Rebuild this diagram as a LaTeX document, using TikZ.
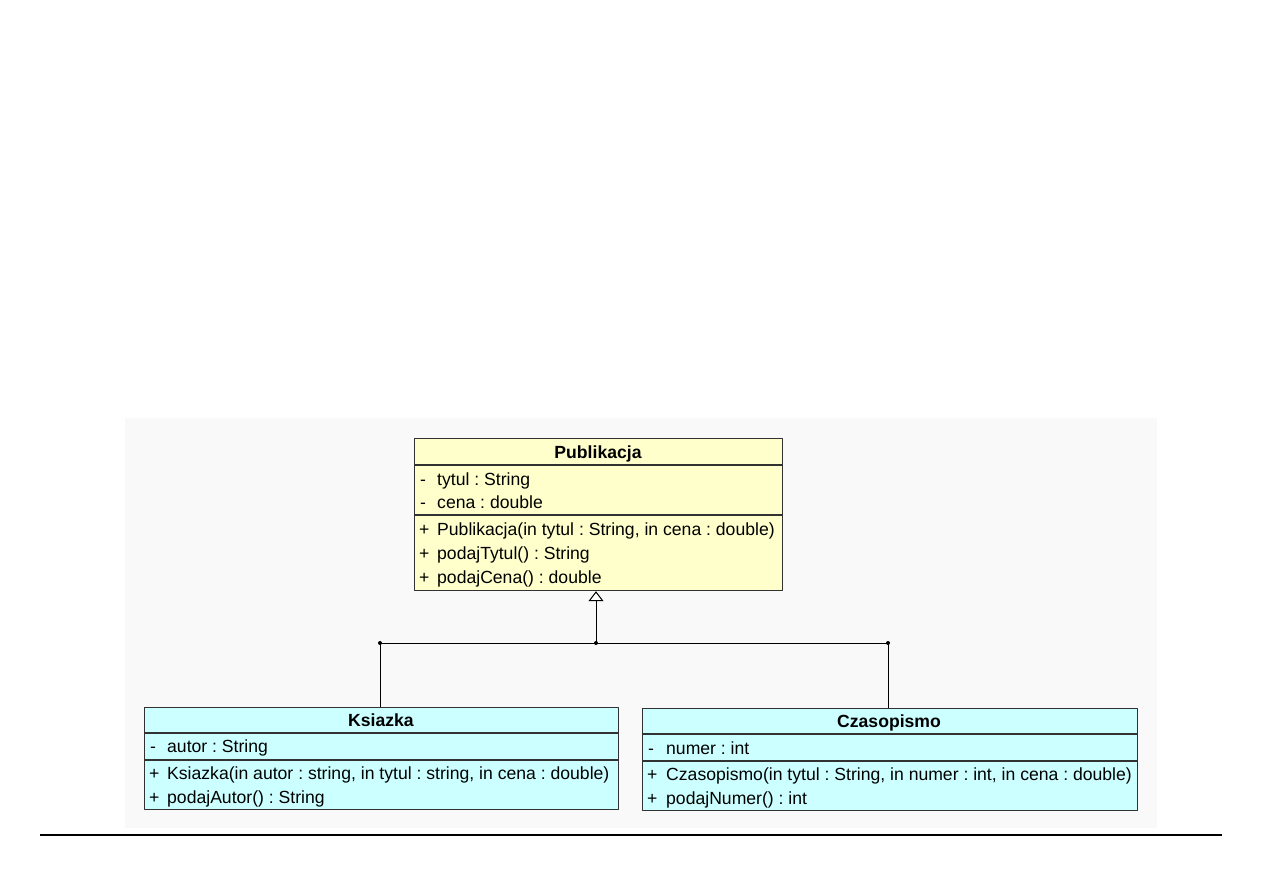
\documentclass[tikz,border=0pt]{standalone}
\usepackage{fontspec}
\setmainfont{Liberation Sans}
\usetikzlibrary{arrows.meta}
\definecolor{zolty}{RGB}{255,255,204}
\definecolor{cyjan}{RGB}{204,255,255}
\definecolor{tlo}{RGB}{249,249,249}
\definecolor{ramka}{RGB}{50,50,50}
\frenchspacing
\begin{document}
\begin{tikzpicture}[x=1pt, y=-1pt, font=\fontsize{17.6}{20}\selectfont, line join=round,
  klasa/.style={draw=ramka, line width=1.2pt, inner sep=0pt, anchor=north west},
  podzial/.style={draw=ramka, line width=1.2pt},
  wpis/.style={anchor=west, inner sep=0pt, text height=12pt, text depth=0pt},
  nazwa/.style={font=\fontsize{17.6}{20}\selectfont\bfseries, inner sep=0pt, text height=12pt, text depth=0pt},
  laczenie/.style={line width=1pt, black}]
\useasboundingbox (0,0) rectangle (1263,893);
\fill[tlo] (125,418) rectangle (1157,828);
\draw[line width=1.3pt] (40,835) -- (1222,835);

\node[klasa, fill=zolty, minimum width=368pt, minimum height=152pt] (pub) at (414,438) {};
\draw[podzial] (414,465) -- (782,465) (414,515) -- (782,515);
\node[nazwa] (pubN) at (598,452) {Publikacja};
\node[wpis] at (420,479) {-};
\node[wpis] (pubA1) at (437,479) {tytul : String};
\node[wpis] at (420,502) {-};
\node[wpis] (pubA2) at (437,502) {cena : double};
\node[wpis] at (419,529) {+};
\node[wpis] (pubM1) at (437,529) {Publikacja(in tytul : String, in cena : double)};
\node[wpis] at (419,553) {+};
\node[wpis] (pubM2) at (437,553) {podajTytul() : String};
\node[wpis] at (419,577) {+};
\node[wpis] (pubM3) at (437,577) {podajCena() : double};

\node[klasa, fill=cyjan, minimum width=474pt, minimum height=102pt] (ksi) at (144,707) {};
\draw[podzial] (144,733) -- (618,733) (144,760) -- (618,760);
\node[nazwa] (ksiN) at (381,720) {Ksiazka};
\node[wpis] at (150,746) {-};
\node[wpis] (ksiA1) at (167,746) {autor : String};
\node[wpis] at (149,773) {+};
\node[wpis] (ksiM1) at (167,773) {Ksiazka(in autor : string, in tytul : string, in cena : double)};
\node[wpis] at (149,797) {+};
\node[wpis] (ksiM2) at (167,797) {podajAutor() : String};

\node[klasa, fill=cyjan, minimum width=495pt, minimum height=102pt] (czas) at (642,708) {};
\draw[podzial] (642,734) -- (1137,734) (642,761) -- (1137,761);
\node[nazwa] (czasN) at (889,721) {Czasopismo};
\node[wpis] at (648,748) {-};
\node[wpis] (czasA1) at (666,748) {numer : int};
\node[wpis] at (647,774) {+};
\node[wpis] (czasM1) at (666,774) {Czasopismo(in tytul : String, in numer : int, in cena : double)};
\node[wpis] at (647,798) {+};
\node[wpis] (czasM2) at (666,798) {podajNumer() : int};

\coordinate (wezel) at (596,643);
\coordinate (wk) at (380,643);
\coordinate (wc) at (888,643);
\draw[laczenie, -{Triangle[open, length=10pt, width=15pt, fill=white]}] (wezel) -- (wezel |- pub.south);
\draw[laczenie] (wk) -- (wc);
\draw[laczenie] (wk) -- (wk |- ksi.north);
\draw[laczenie] (wc) -- (wc |- czas.north);
\fill (wk) circle (2pt) (wezel) circle (2pt) (wc) circle (2pt);
\end{tikzpicture}
\end{document}
